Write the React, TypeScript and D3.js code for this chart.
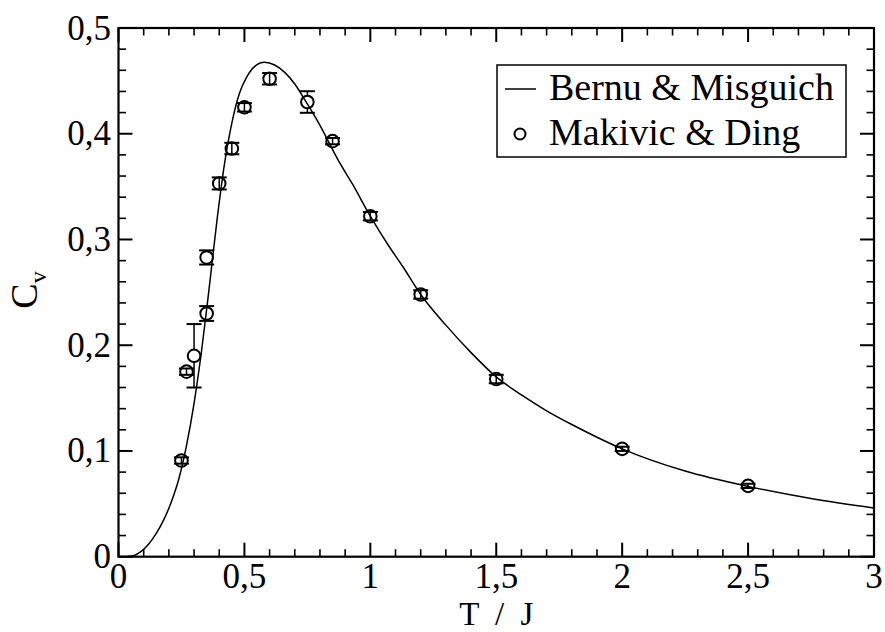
import React from "react";
import * as d3 from "d3";

// Bernu & Misguich curve (T/J, Cv)
const curveT = [0.03, 0.06, 0.09, 0.12, 0.15, 0.18, 0.21, 0.24, 0.27, 0.30, 0.33, 0.36, 0.39, 0.42, 0.45, 0.48, 0.51, 0.54, 0.58, 0.62, 0.66, 0.70, 0.74, 0.80, 0.87, 0.93, 1.00, 1.07, 1.13, 1.20, 1.30, 1.40, 1.50, 1.60, 1.70, 1.80, 1.90, 2.00, 2.25, 2.50, 2.75, 3.00];
const curveCv = [0.0, 0.001, 0.005, 0.012, 0.022, 0.035, 0.052, 0.074, 0.105, 0.145, 0.195, 0.254, 0.316, 0.370, 0.410, 0.438, 0.454, 0.4635, 0.4675, 0.465, 0.458, 0.447, 0.432, 0.408, 0.376, 0.352, 0.322, 0.295, 0.274, 0.248, 0.219, 0.193, 0.170, 0.153, 0.138, 0.125, 0.113, 0.102, 0.081, 0.0665, 0.055, 0.046];

// Makivic & Ding data points
const pointT = [0.25, 0.27, 0.30, 0.35, 0.35, 0.40, 0.45, 0.50, 0.60, 0.75, 0.85, 1.00, 1.20, 1.50, 2.00, 2.50];
const pointCv = [0.091, 0.175, 0.190, 0.230, 0.283, 0.353, 0.386, 0.425, 0.452, 0.430, 0.393, 0.322, 0.248, 0.168, 0.102, 0.067];
const pointErr = [0.003, 0.003, 0.030, 0.007, 0.0067, 0.0057, 0.0054, 0.004, 0.0054, 0.0102, 0.003, 0.004, 0.004, 0.004, 0.002, 0.002];

const xMajor = [0, 0.5, 1, 1.5, 2, 2.5, 3];
const yMajor = [0, 0.1, 0.2, 0.3, 0.4, 0.5];
const legendLabels = ["Bernu & Misguich", "Makivic & Ding"];

const W = 885, H = 632;
const L = 118.5, R = 874, T = 28, B = 556.7;
const FONT = "Liberation Serif, DejaVu Serif, serif";

export default function App() {
  const x = d3.scaleLinear().domain([0, 3]).range([L, R]);
  const y = d3.scaleLinear().domain([0, 0.5]).range([B, T]);
  const fmt = (v: number) => d3.format("~g")(v).replace(".", ",");

  const xMinor = d3.range(0, 3.0001, 0.1).map((v) => +v.toFixed(2)).filter((v) => !xMajor.some((m) => Math.abs(m - v) < 1e-6));
  const yMinor = d3.range(0, 0.50001, 0.02).map((v) => +v.toFixed(3)).filter((v) => !yMajor.some((m) => Math.abs(m - v) < 1e-6));

  const curveData = curveT.map((t, i) => [t, curveCv[i]] as [number, number]);
  const line = d3.line<[number, number]>().x((d) => x(d[0])).y((d) => y(d[1])).curve(d3.curveMonotoneX);

  const r = 6.3;
  const cap = 7.5;
  const MAJ = 14, MIN = 7.5;
  const textStyle = { fontFamily: FONT };

  return (
    <svg width={W} height={H} style={{ position: "absolute", left: 0, top: 0, background: "#fff" }}>
      <rect x={0} y={0} width={W} height={H} fill="#fff" />
      <defs>
        <clipPath id="plotclip">
          <rect x={L} y={T} width={R - L} height={B - T} />
        </clipPath>
      </defs>
      {/* curve */}
      <path d={line(curveData) || ""} fill="none" stroke="#000" strokeWidth={1.5} clipPath="url(#plotclip)" />
      {/* points */}
      {pointT.map((t, i) => {
        const cx = x(t), cy = y(pointCv[i]);
        const yt = y(pointCv[i] + pointErr[i]);
        const yb = y(pointCv[i] - pointErr[i]);
        const big = cy - yt > r;
        return (
          <g key={i} stroke="#000" strokeWidth={2} fill="none">
            {big ? (
              <>
                <line x1={cx} x2={cx} y1={yt} y2={cy - r} strokeWidth={1.5} />
                <line x1={cx} x2={cx} y1={cy + r} y2={yb} strokeWidth={1.5} />
              </>
            ) : (
              <line x1={cx} x2={cx} y1={yt} y2={yb} strokeWidth={1.5} />
            )}
            <line x1={cx - cap} x2={cx + cap} y1={yt} y2={yt} />
            <line x1={cx - cap} x2={cx + cap} y1={yb} y2={yb} />
            <circle cx={cx} cy={cy} r={r} />
          </g>
        );
      })}
      {/* ticks */}
      <g stroke="#000">
        {xMajor.map((v) => (
          <g key={"xM" + v} strokeWidth={2}>
            <line x1={x(v)} x2={x(v)} y1={B} y2={B - MAJ} />
            <line x1={x(v)} x2={x(v)} y1={T} y2={T + MAJ} />
          </g>
        ))}
        {xMinor.map((v) => (
          <g key={"xm" + v} strokeWidth={1.6}>
            <line x1={x(v)} x2={x(v)} y1={B} y2={B - MIN} />
            <line x1={x(v)} x2={x(v)} y1={T} y2={T + MIN} />
          </g>
        ))}
        {yMajor.map((v) => (
          <g key={"yM" + v} strokeWidth={2}>
            <line x1={L} x2={L + MAJ} y1={y(v)} y2={y(v)} />
            <line x1={R} x2={R - MAJ} y1={y(v)} y2={y(v)} />
          </g>
        ))}
        {yMinor.map((v) => (
          <g key={"ym" + v} strokeWidth={1.6}>
            <line x1={L} x2={L + MIN} y1={y(v)} y2={y(v)} />
            <line x1={R} x2={R - MIN} y1={y(v)} y2={y(v)} />
          </g>
        ))}
      </g>
      {/* frame */}
      <rect x={L} y={T} width={R - L} height={B - T} fill="none" stroke="#000" strokeWidth={2.2} />
      {/* tick labels */}
      {xMajor.map((v) => (
        <text key={"xl" + v} x={x(v)} y={587.5} textAnchor="middle" fontSize={35} style={textStyle}>{fmt(v)}</text>
      ))}
      {yMajor.map((v) => (
        <text key={"yl" + v} x={111} y={y(v) + 11.5} textAnchor="end" fontSize={35} style={textStyle}>{fmt(v)}</text>
      ))}
      {/* axis titles */}
      <text x={x(1.5)} y={624.5} textAnchor="middle" fontSize={33} wordSpacing={8} style={textStyle}>T / J</text>
      <text transform="translate(37,290) rotate(-90)" textAnchor="middle" fontSize={38} style={textStyle}>
        C<tspan fontSize={24} dy={9}>v</tspan>
      </text>
      {/* legend */}
      <rect x={497} y={65} width={349} height={92} fill="#fff" stroke="#000" strokeWidth={1.5} />
      <line x1={505} x2={536} y1={89} y2={89} stroke="#000" strokeWidth={1.5} />
      <circle cx={520} cy={134} r={5.5} fill="none" stroke="#000" strokeWidth={2} />
      <text x={549} y={100} fontSize={38} style={textStyle}>{legendLabels[0]}</text>
      <text x={549} y={145} fontSize={38} style={textStyle}>{legendLabels[1]}</text>
    </svg>
  );
}
